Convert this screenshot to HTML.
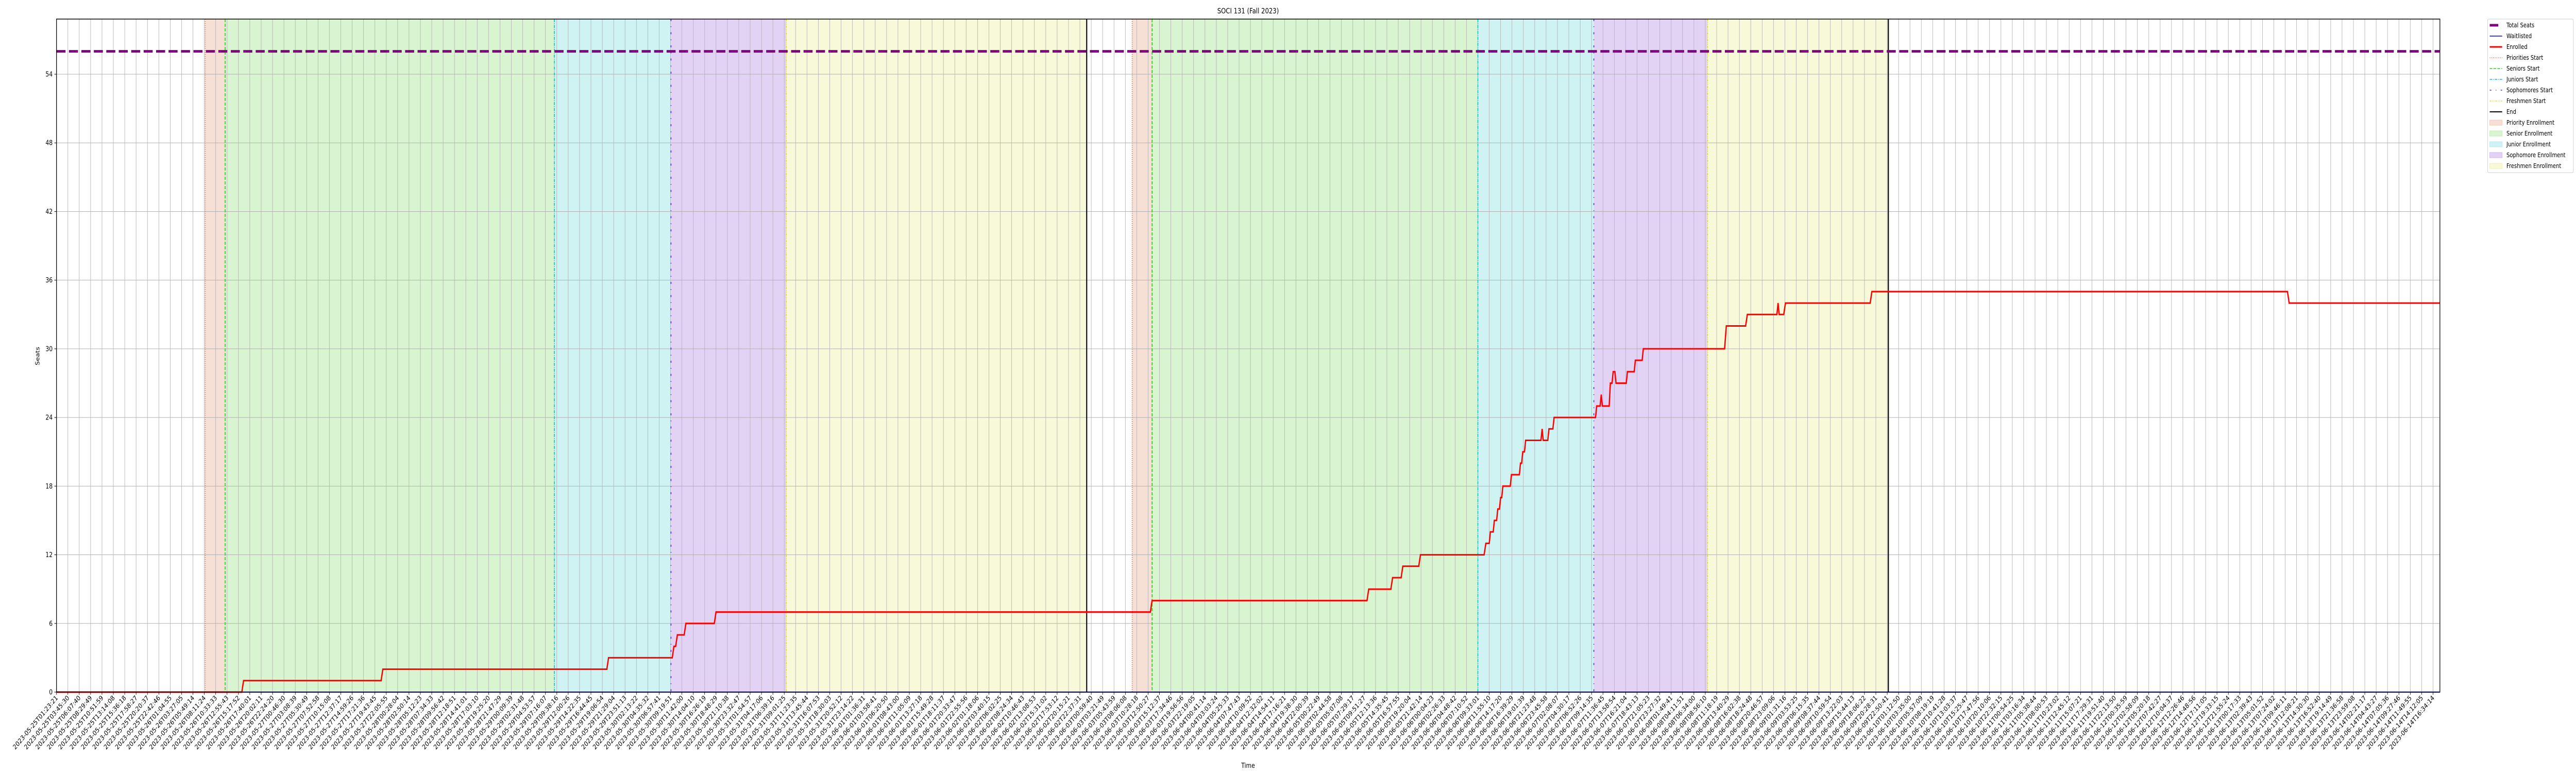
<!DOCTYPE html>
<html><head><meta charset="utf-8"><title>SOCI 131 (Fall 2023)</title>
<style>html,body{margin:0;padding:0;background:#fff;width:100%;height:100%;overflow:hidden;}svg{display:block;width:100vw;height:100vh;overflow:hidden;font-family:"DejaVu Sans","Liberation Sans",sans-serif;}</style>
</head><body>
<svg id="chart" viewBox="0 0 6000 1500" preserveAspectRatio="none" xmlns="http://www.w3.org/2000/svg">
<text x="2907" y="26" font-size="14" text-anchor="middle">SOCI 131 (Fall 2023)</text>
<g id="plot"></g>
<text x="2907" y="1490" font-size="13" text-anchor="middle">Time</text>
<text transform="translate(92,691) rotate(-90)" font-size="13" text-anchor="middle">Seats</text>
<g font-size="12">
<rect x="5794" y="37" width="200" height="298" rx="3" fill="#fff" stroke="#ccc"/>
<g><line x1="5799" y1="49" x2="5819" y2="49" stroke="#800080" stroke-width="5"/><text x="5838" y="53">Total Seats</text></g>
<g><line x1="5799" y1="70" x2="5828" y2="70" stroke="#0000ff" stroke-width="1.5"/><text x="5838" y="74">Waitlisted</text></g>
<g><line x1="5799" y1="91" x2="5828" y2="91" stroke="#ff0000" stroke-width="3"/><text x="5838" y="95">Enrolled</text></g>
<g><line x1="5799" y1="112" x2="5828" y2="112" stroke="#ec6b2d" stroke-width="1.5" stroke-dasharray="1.5 2.5"/><text x="5838" y="116">Priorities Start</text></g>
<g><line x1="5799" y1="133" x2="5828" y2="133" stroke="#33cc22" stroke-width="1.5" stroke-dasharray="6 3"/><text x="5838" y="137">Seniors Start</text></g>
<g><line x1="5799" y1="154" x2="5828" y2="154" stroke="#11c4cc" stroke-width="1.5" stroke-dasharray="6 2 1.5 2"/><text x="5838" y="158">Juniors Start</text></g>
<g><line x1="5799" y1="175" x2="5828" y2="175" stroke="#6a2bd9" stroke-width="1.5" stroke-dasharray="4 10 1.5 10"/><text x="5838" y="179">Sophomores Start</text></g>
<g><line x1="5799" y1="196" x2="5828" y2="196" stroke="#dddd33" stroke-width="1.5" stroke-dasharray="4 2 1.5 2 1.5 2"/><text x="5838" y="200">Freshmen Start</text></g>
<g><line x1="5799" y1="217" x2="5828" y2="217" stroke="#000" stroke-width="2"/><text x="5838" y="221">End</text></g>
<g><rect x="5799" y="233" width="29" height="10" fill="#f6e0d6" stroke="#f0c8b8"/><text x="5838" y="242">Priority Enrollment</text></g>
<g><rect x="5799" y="254" width="29" height="10" fill="#d9f4d0" stroke="#c4ecb8"/><text x="5838" y="263">Senior Enrollment</text></g>
<g><rect x="5799" y="275" width="29" height="10" fill="#cff2f3" stroke="#b8eaec"/><text x="5838" y="284">Junior Enrollment</text></g>
<g><rect x="5799" y="296" width="29" height="10" fill="#e2d3f5" stroke="#cfb8ee"/><text x="5838" y="305">Sophomore Enrollment</text></g>
<g><rect x="5799" y="317" width="29" height="10" fill="#f8f9d9" stroke="#eeefb8"/><text x="5838" y="326">Freshmen Enrollment</text></g>
</g>
</svg>
<script>
// ---- data (x in tick-index units) ----
var enrolledT = [0,16.3,16.45,28.55,28.7,48.4,48.55,54.15,54.3,54.45,54.6,55.2,55.35,57.85,58.0,96.2,96.35,115.25,115.4,117.35,117.5,118.25,118.4,119.8,119.95,125.55,125.7,126.0,126.1,126.35,126.45,126.65,126.75,126.9,127.0,127.1,127.2,127.85,127.95,128.65,128.75,128.85,128.95,129.1,129.2,130.55,130.65,130.75,131.15,131.25,131.6,131.7,135.35,135.45,135.75,135.85,135.95,136.55,136.65,136.8,136.9,137.05,137.15,138.05,138.15,138.75,138.85,139.45,139.55,146.7,146.85,148.55,148.7,151.3,151.4,151.5,151.9,152.05,159.5,159.65,196.2,196.35,209.6];
var enrolledV = [0,0,1,1,2,2,3,3,4,4,5,5,6,6,7,7,8,8,9,9,10,10,11,11,12,12,13,13,14,14,15,15,16,16,17,17,18,18,19,19,20,20,21,21,22,22,23,22,22,23,23,24,24,25,25,26,25,25,27,27,28,28,27,27,28,28,29,29,30,30,32,32,33,33,34,33,33,34,34,35,35,34,34];
var waitT = [0,209.6];
var waitV = [0,0];
var totalSeats = 56;
var phaseNames = ["priority","senior","junior","sophomore","freshmen"];
var cycle1 = [13.08,14.83,43.78,54.04,64.18,90.6];
var cycle2 = [94.6,96.35,125.0,135.2,145.2,161.1];
var yTicks = [0,6,12,18,24,30,36,42,48,54];
var tickStartLabel = "2023-05-25T01:23:21";
var tickCount = 210;
var tickStepSec = 8529.44;
var tickLabels = [];
(function(){var b=Date.UTC(2023,4,25,1,23,21);for(var i=0;i<tickCount;i++){var d=new Date(b+Math.round(i*tickStepSec)*1000);tickLabels.push(d.toISOString().slice(0,19));}})();

// ---- layout ----
var L=131.6,R=5683,T=37,B=1343,dx=26.485,yUnit=(B-144)/54;
function X(i){return L+i*dx;}
function Y(v){return B-v*yUnit;}
var NS="http://www.w3.org/2000/svg",g=document.getElementById('plot');
function el(tag,at,parent){var e=document.createElementNS(NS,tag);for(var k in at)e.setAttribute(k,at[k]);(parent||g).appendChild(e);return e;}
var fills={priority:"#f6e0d6",senior:"#d9f4d0",junior:"#cff2f3",sophomore:"#e2d3f5",freshmen:"#f8f9d9"};
var lineStyles=[["#ec6b2d","1.5 2.5","priorities-start-line"],["#33cc22","6 3","seniors-start-line"],["#11c4cc","6 2 1.5 2","juniors-start-line"],["#6a2bd9","4 10 1.5 10","sophomores-start-line"],["#dddd33","4 2 1.5 2 1.5 2","freshmen-start-line"]];
el('rect',{x:L,y:T,width:R-L,height:B-T,fill:'#fff'});
[cycle1,cycle2].forEach(function(c){
  for(var k=0;k<5;k++){
    var r=el('rect',{x:X(c[k]),y:T,width:X(c[k+1])-X(c[k]),height:B-T,fill:fills[phaseNames[k]]});
    
    
  }
});
for(var i=0;i<tickCount;i++){
  var gl=el('line',{x1:X(i),x2:X(i),y1:T,y2:B,stroke:'#b0b0b0','stroke-width':1});
  
  
}
yTicks.forEach(function(v){
  var gl=el('line',{x1:L,x2:R,y1:Y(v),y2:Y(v),stroke:'#b0b0b0','stroke-width':1});
  
  
});
[cycle1,cycle2].forEach(function(c){
  for(var k=0;k<5;k++){
    var s=lineStyles[k];
    var ln=el('line',{x1:X(c[k]),x2:X(c[k]),y1:T,y2:B,stroke:s[0],'stroke-width':2,'stroke-dasharray':s[1]});
    
    
  }
  var en=el('line',{x1:X(c[5]),x2:X(c[5]),y1:T,y2:B,stroke:'#000','stroke-width':2.5});
  
  
});
var ts=el('line',{x1:L,x2:R,y1:Y(totalSeats),y2:Y(totalSeats),stroke:'#800080','stroke-width':5,'stroke-dasharray':'21 8'});


function pts(t,v){return t.map(function(x,i){return X(x).toFixed(1)+','+Y(v[i]).toFixed(1);}).join(' ');}
var wl=el('polyline',{points:pts(waitT,waitV),fill:'none',stroke:'#0000ff','stroke-width':2});


var enl=el('polyline',{points:pts(enrolledT,enrolledV),fill:'none',stroke:'#ff0000','stroke-width':3,'stroke-linejoin':'miter'});


el('rect',{x:L,y:T,width:R-L,height:B-T,fill:'none',stroke:'#000','stroke-width':1.5});
for(var i=0;i<tickCount;i++){
  var tk=el('line',{x1:X(i),x2:X(i),y1:B,y2:B+5,stroke:'#000','stroke-width':1});
  
  
  var tx=el('text',{transform:'translate('+(X(i)+4)+','+(B+12)+') rotate(-45)','font-size':13,'text-anchor':'end'});
  
  
  tx.textContent=tickLabels[i];
}
yTicks.forEach(function(v){
  var tk=el('line',{x1:L-5,x2:L,y1:Y(v),y2:Y(v),stroke:'#000','stroke-width':1});
  
  
  var tx=el('text',{x:L-9,y:Y(v)+4.5,'font-size':13,'text-anchor':'end'});
  
  
  tx.textContent=v;
});
</script>
</body></html>
